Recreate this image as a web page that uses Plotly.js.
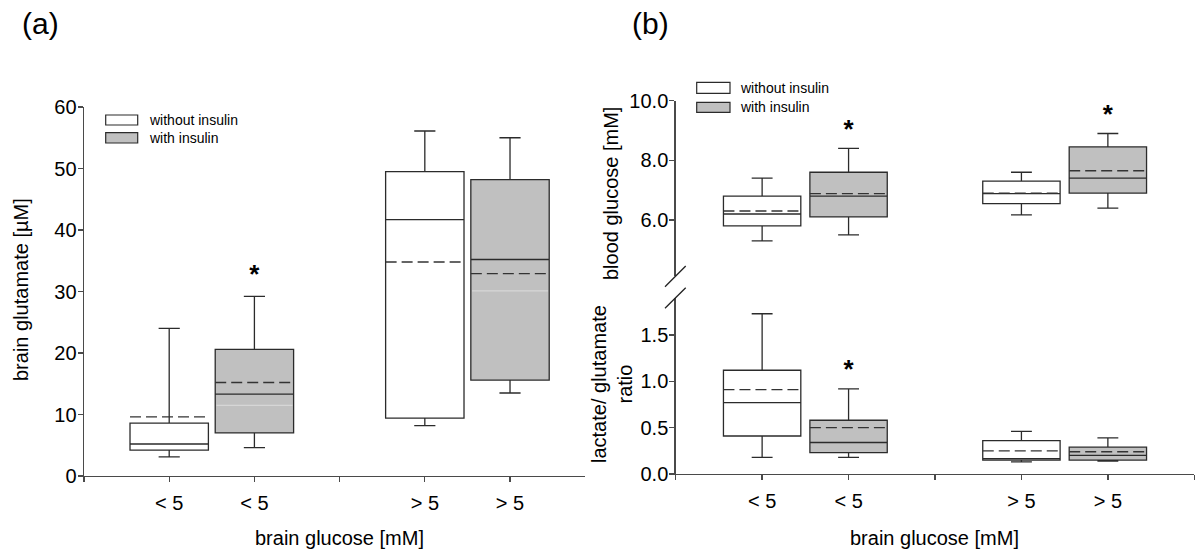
<!DOCTYPE html>
<html><head><meta charset="utf-8">
<script src="https://cdn.plot.ly/plotly-3.0.1.min.js"></script>
<style>
html,body{margin:0;padding:0;background:#fff;}
#chart{width:1200px;height:553px;}
</style></head><body><div id="chart"></div>
<script>
// ---------- data ----------
const seriesNames = ['without insulin', 'with insulin'];
const posWithout = [1, 4];
const posWith = [2, 5];
const tickPosA = [0, 1, 2, 3, 4, 5];
const tickTextA = ['', '< 5', '< 5', '', '> 5', '> 5'];
const tickPosB = [0, 1, 2, 3, 4, 5, 6];
const tickTextB = ['', '< 5', '< 5', '', '> 5', '> 5', ''];

// (a) brain glutamate [µM]
const gluWoLow  = [3.1, 8.2];
const gluWoQ1   = [4.2, 9.4];
const gluWoMed  = [5.2, 41.7];
const gluWoQ3   = [8.6, 49.5];
const gluWoHigh = [24.0, 56.1];
const gluWoMean = [9.6, 34.8];
const gluWiLow  = [4.6, 13.5];
const gluWiQ1   = [7.0, 15.6];
const gluWiMed  = [13.3, 35.2];
const gluWiQ3   = [20.6, 48.2];
const gluWiHigh = [29.2, 55.0];
const gluWiMean = [15.2, 32.9];
const gluWiFaint = [11.5, 30.1];
const sigGluX = [2];
const sigGluY = [32.5];

// (b) blood glucose [mM]
const bgWoLow  = [5.3, 6.17];
const bgWoQ1   = [5.8, 6.55];
const bgWoMed  = [6.2, 6.88];
const bgWoQ3   = [6.8, 7.3];
const bgWoHigh = [7.4, 7.6];
const bgWoMean = [6.3, 6.9];
const bgWiLow  = [5.5, 6.4];
const bgWiQ1   = [6.1, 6.9];
const bgWiMed  = [6.8, 7.4];
const bgWiQ3   = [7.6, 8.45];
const bgWiHigh = [8.4, 8.9];
const bgWiMean = [6.88, 7.65];
const sigBgX = [2, 5];
const sigBgY = [8.98, 9.46];

// (b) lactate/glutamate ratio
const lgWoLow  = [0.18, 0.13];
const lgWoQ1   = [0.41, 0.15];
const lgWoMed  = [0.77, 0.165];
const lgWoQ3   = [1.12, 0.36];
const lgWoHigh = [1.73, 0.46];
const lgWoMean = [0.91, 0.25];
const lgWiLow  = [0.18, 0.14];
const lgWiQ1   = [0.23, 0.15];
const lgWiMed  = [0.34, 0.20];
const lgWiQ3   = [0.58, 0.29];
const lgWiHigh = [0.92, 0.39];
const lgWiMean = [0.50, 0.24];
const sigLgX = [2];
const sigLgY = [1.105];

// ---------- styling ----------
const FONT = 'Liberation Sans, Arial, sans-serif';
const BOXLINE = '#2b2b2b';
const AXLINE = '#4a4a4a';
const GRAY = '#c0c0c0';

function box(name, pos, lo, q1, med, q3, hi, fill, w, xa, ya) {
  return {
    type: 'box', name: name, x: pos, lowerfence: lo, q1: q1, median: med, q3: q3,
    upperfence: hi, boxpoints: false,
    fillcolor: fill, line: {color: BOXLINE, width: 1.3},
    width: w, whiskerwidth: 0.27, showlegend: false, hoverinfo: 'skip',
    xaxis: xa, yaxis: ya
  };
}
function hlines(pos, vals, w, frac, line, xa, ya) {
  const xs = [], ys = [];
  pos.forEach((p, i) => { xs.push(p - w / 2 * frac, p + w / 2 * frac, null); ys.push(vals[i], vals[i], null); });
  return {type: 'scatter', mode: 'lines', x: xs, y: ys, line: line,
    showlegend: false, hoverinfo: 'skip', xaxis: xa, yaxis: ya};
}
const meanLine = {color: '#333', width: 1.3, dash: '11px,5px'};
function sig(xs, ys, xa, ya) {
  return {type: 'scatter', mode: 'text', x: xs, y: ys, text: xs.map(() => '<b>*</b>'),
    textposition: 'middle center', textfont: {family: FONT, size: 26, color: '#000'},
    showlegend: false, hoverinfo: 'skip', xaxis: xa, yaxis: ya};
}

const wA = 0.92, wB = 0.895;
const data = [
  box(seriesNames[0], posWithout, gluWoLow, gluWoQ1, gluWoMed, gluWoQ3, gluWoHigh, '#ffffff', wA, 'x', 'y'),
  box(seriesNames[1], posWith, gluWiLow, gluWiQ1, gluWiMed, gluWiQ3, gluWiHigh, GRAY, wA, 'x', 'y'),
  hlines(posWith, gluWiFaint, wA, 0.97, {color: '#dcdcdc', width: 1}, 'x', 'y'),
  hlines(posWithout, gluWoMean, wA, 1, meanLine, 'x', 'y'),
  hlines(posWith, gluWiMean, wA, 1, meanLine, 'x', 'y'),
  sig(sigGluX, sigGluY, 'x', 'y'),
  box(seriesNames[0], posWithout, bgWoLow, bgWoQ1, bgWoMed, bgWoQ3, bgWoHigh, '#ffffff', wB, 'x2', 'y2'),
  box(seriesNames[1], posWith, bgWiLow, bgWiQ1, bgWiMed, bgWiQ3, bgWiHigh, GRAY, wB, 'x2', 'y2'),
  hlines(posWithout, bgWoMean, wB, 1, meanLine, 'x2', 'y2'),
  hlines(posWith, bgWiMean, wB, 1, meanLine, 'x2', 'y2'),
  sig(sigBgX, sigBgY, 'x2', 'y2'),
  box(seriesNames[0], posWithout, lgWoLow, lgWoQ1, lgWoMed, lgWoQ3, lgWoHigh, '#ffffff', wB, 'x2', 'y3'),
  box(seriesNames[1], posWith, lgWiLow, lgWiQ1, lgWiMed, lgWiQ3, lgWiHigh, GRAY, wB, 'x2', 'y3'),
  hlines(posWithout, lgWoMean, wB, 1, meanLine, 'x2', 'y3'),
  hlines(posWith, lgWiMean, wB, 1, meanLine, 'x2', 'y3'),
  sig(sigLgX, sigLgY, 'x2', 'y3')
];

const W = 1200, H = 553;
const px = v => v / W, py = v => 1 - v / H;

const axBase = {showline: true, linecolor: AXLINE, linewidth: 1.4, ticks: 'outside', ticklen: 5,
  tickwidth: 1.3, tickcolor: AXLINE, showgrid: false, zeroline: false, fixedrange: true,
  tickfont: {family: FONT, size: 20, color: '#000'}};
const xBase = Object.assign({}, axBase, {ticklabelstandoff: 4});
const yBase = Object.assign({}, axBase, {ticklabelstandoff: -3});

const layout = {
  width: W, height: H, margin: {l: 0, r: 0, t: 0, b: 0},
  paper_bgcolor: '#fff', plot_bgcolor: 'rgba(0,0,0,0)',
  font: {family: FONT, color: '#000'},
  showlegend: false, boxmode: 'overlay',
  xaxis: Object.assign({}, xBase, {domain: [px(84), px(585)], range: [0, 5.88], anchor: 'y',
    tickmode: 'array', tickvals: tickPosA, ticktext: tickTextA}),
  yaxis: Object.assign({}, yBase, {domain: [py(476), py(107)], range: [0, 60], anchor: 'x',
    tickmode: 'array', tickvals: [0, 10, 20, 30, 40, 50, 60]}),
  xaxis2: Object.assign({}, xBase, {domain: [px(675.7), px(1194.3)], range: [0, 6], anchor: 'y3',
    tickmode: 'array', tickvals: tickPosB, ticktext: tickTextB}),
  yaxis2: Object.assign({}, yBase, {domain: [py(276), py(100.7)], range: [4.12, 10], anchor: 'x2',
    tickmode: 'array', tickvals: [6, 8, 10], tickformat: '.1f'}),
  yaxis3: Object.assign({}, yBase, {domain: [py(474), py(298)], range: [0, 1.9], anchor: 'x2',
    tickmode: 'array', tickvals: [0, 0.5, 1, 1.5], tickformat: '.1f'}),
  shapes: [
    // legend (a)
    {type: 'rect', xref: 'paper', yref: 'paper', x0: px(105.7), x1: px(137.7), y0: py(125), y1: py(115), fillcolor: '#fff', line: {color: BOXLINE, width: 1.2}},
    {type: 'rect', xref: 'paper', yref: 'paper', x0: px(105.7), x1: px(137.7), y0: py(143), y1: py(132.7), fillcolor: GRAY, line: {color: BOXLINE, width: 1.2}},
    // legend (b)
    {type: 'rect', xref: 'paper', yref: 'paper', x0: px(696.7), x1: px(730), y0: py(93.3), y1: py(82.3), fillcolor: '#fff', line: {color: BOXLINE, width: 1.2}},
    {type: 'rect', xref: 'paper', yref: 'paper', x0: px(696.7), x1: px(730), y0: py(112.3), y1: py(102.3), fillcolor: GRAY, line: {color: BOXLINE, width: 1.2}},
    // axis break marks
    {type: 'line', xref: 'paper', yref: 'paper', x0: px(665), x1: px(685.7), y0: py(286.7), y1: py(266), line: {color: '#222', width: 1.3}},
    {type: 'line', xref: 'paper', yref: 'paper', x0: px(665), x1: px(685.7), y0: py(308.3), y1: py(287.7), line: {color: '#222', width: 1.3}}
  ],
  annotations: [
    {xref: 'paper', yref: 'paper', x: px(40), y: py(24), text: '(a)', showarrow: false, font: {family: FONT, size: 30}, xanchor: 'center', yanchor: 'middle'},
    {xref: 'paper', yref: 'paper', x: px(650), y: py(24), text: '(b)', showarrow: false, font: {family: FONT, size: 30}, xanchor: 'center', yanchor: 'middle'},
    {xref: 'paper', yref: 'paper', x: px(146.7), y: py(120), text: seriesNames[0], showarrow: false, font: {family: FONT, size: 14}, xanchor: 'left', yanchor: 'middle'},
    {xref: 'paper', yref: 'paper', x: px(146.7), y: py(138), text: seriesNames[1], showarrow: false, font: {family: FONT, size: 14}, xanchor: 'left', yanchor: 'middle'},
    {xref: 'paper', yref: 'paper', x: px(738.3), y: py(88), text: seriesNames[0], showarrow: false, font: {family: FONT, size: 14}, xanchor: 'left', yanchor: 'middle'},
    {xref: 'paper', yref: 'paper', x: px(738.3), y: py(107), text: seriesNames[1], showarrow: false, font: {family: FONT, size: 14}, xanchor: 'left', yanchor: 'middle'},
    {xref: 'paper', yref: 'paper', x: px(21), y: py(290), text: 'brain glutamate [µM]', textangle: -90, showarrow: false, font: {family: FONT, size: 20}, xanchor: 'center', yanchor: 'middle'},
    {xref: 'paper', yref: 'paper', x: px(611), y: py(194), text: 'blood glucose [mM]', textangle: -90, showarrow: false, font: {family: FONT, size: 20}, xanchor: 'center', yanchor: 'middle'},
    {xref: 'paper', yref: 'paper', x: px(612), y: py(384), text: 'lactate/ glutamate<br>ratio', textangle: -90, showarrow: false, font: {family: FONT, size: 20}, xanchor: 'center', yanchor: 'middle'},
    {xref: 'paper', yref: 'paper', x: px(339.5), y: py(538), text: 'brain glucose [mM]', showarrow: false, font: {family: FONT, size: 20}, xanchor: 'center', yanchor: 'middle'},
    {xref: 'paper', yref: 'paper', x: px(934), y: py(538), text: 'brain glucose [mM]', showarrow: false, font: {family: FONT, size: 20}, xanchor: 'center', yanchor: 'middle'}
  ]
};

Plotly.newPlot('chart', data, layout, {displayModeBar: false, staticPlot: true});
</script></body></html>
